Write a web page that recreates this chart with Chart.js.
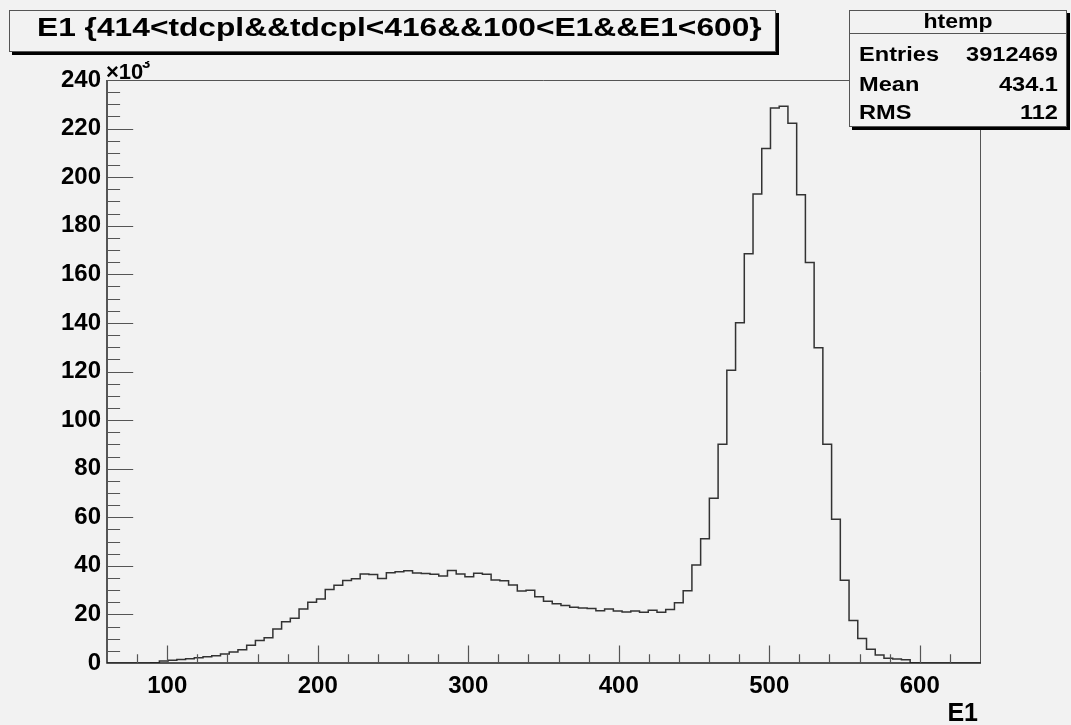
<!DOCTYPE html>
<html>
<head>
<meta charset="utf-8">
<script src="https://cdn.jsdelivr.net/npm/chart.js@4.4.0/dist/chart.umd.min.js"></script>
<style>
  html, body { margin: 0; padding: 0; background: #f2f2f2; }
  #wrap { width: 1071px; height: 725px; position: relative; }
</style>
</head>
<body>
<div id="wrap"><canvas id="c" width="1071" height="725"></canvas></div>
<script>
// htemp : E1 の分布（縦軸は x10^3 単位）
const X_MIN = 60;
const X_MAX = 640;
const N_BINS = 100;

// 各ビンの度数 (x10^3)
const counts = [
  0, 0, 0, 0, 0, 0, 0.1, 0.8, 1.1, 1.4,
  1.8, 2.2, 2.6, 3.0, 3.7, 4.5, 5.5, 7.3, 9.3, 10.4,
  14.0, 17.0, 18.4, 22.2, 25.0, 26.3, 30.3, 32.0, 34.0, 34.7,
  36.6, 36.4, 34.8, 37.2, 37.6, 38.0, 37.0, 36.8, 36.5, 35.8,
  38.1, 36.6, 35.5, 36.9, 36.5, 34.2, 33.9, 32.1, 29.6, 30.0,
  27.3, 25.4, 24.4, 23.7, 22.9, 22.6, 22.4, 21.5, 22.2, 21.4,
  21.0, 21.4, 20.9, 21.7, 20.9, 22.0, 24.8, 29.7, 40.3, 51.1,
  67.8, 90.1, 120.5, 140.1, 168.5, 193.1, 211.8, 228.5, 229.2, 222.2,
  192.8, 164.9, 129.8, 90.1, 59.2, 34.1, 17.5, 10.1, 5.7, 3.3,
  2.0, 1.6, 1.3, 0.1, 0, 0, 0, 0, 0, 0
];

const xTicks = [100, 200, 300, 400, 500, 600];
const xMinorTicks = [80, 120, 140, 160, 180, 220, 240, 260, 280, 320, 340, 360, 380,
  420, 440, 460, 480, 520, 540, 560, 580, 620];
const yTicks = [0, 20, 40, 60, 80, 100, 120, 140, 160, 180, 200, 220, 240];

const titleText = 'E1 {414<tdcpl&&tdcpl<416&&100<E1&&E1<600}';
const statsName = 'htemp';
const statsRows = [['Entries', '3912469'], ['Mean', '434.1'], ['RMS', '112']];
const xTitle = 'E1';

const FONT = '"Liberation Sans", Arial, Helvetica, sans-serif';
const BG = '#f2f2f2';

// ヒストグラムの点（ビン下端, 度数）
const binW = (X_MAX - X_MIN) / N_BINS;
const points = counts.map((v, i) => ({ x: X_MIN + i * binW, y: v }));
points.push({ x: X_MAX, y: 0 });

// 横に少し伸ばした文字（ROOTのフォントは幅広）
function wideText(ctx, text, x, y, sx, align) {
  ctx.save();
  ctx.translate(x, y);
  ctx.scale(sx, 1);
  ctx.textAlign = align;
  ctx.fillText(text, 0, 0);
  ctx.restore();
}

// ROOT風の枠・内向き目盛り・タイトル・統計ボックス
const rootDecor = {
  id: 'rootDecor',
  beforeDraw(chart) {
    const ctx = chart.ctx;
    ctx.save();
    ctx.fillStyle = BG;
    ctx.fillRect(0, 0, chart.width, chart.height);
    ctx.restore();
  },
  afterDraw(chart) {
    const ctx = chart.ctx;
    const a = chart.chartArea;
    const xs = chart.scales.x, ys = chart.scales.y;
    ctx.save();

    // frame top / right
    ctx.strokeStyle = '#555';
    ctx.lineWidth = 1;
    ctx.beginPath();
    ctx.moveTo(a.left, a.top + 0.5);
    ctx.lineTo(a.right + 0.5, a.top + 0.5);
    ctx.lineTo(a.right + 0.5, a.bottom);
    ctx.stroke();

    // axes
    ctx.strokeStyle = '#222';
    ctx.lineWidth = 1.5;
    ctx.beginPath();
    ctx.moveTo(a.left, a.top);
    ctx.lineTo(a.left, a.bottom);
    ctx.lineTo(a.right + 1, a.bottom);
    ctx.stroke();

    // y ticks (inward)
    const yMajor = (a.right - a.left) * 0.03;
    ctx.strokeStyle = '#555';
    ctx.lineWidth = 1.2;
    ctx.beginPath();
    for (let v = 0; v <= 240; v += 5) {
      const py = Math.round(ys.getPixelForValue(v)) + 0.5;
      const len = v % 20 === 0 ? yMajor : yMajor / 2;
      ctx.moveTo(a.left, py);
      ctx.lineTo(a.left + len, py);
    }
    // x ticks (inward)
    const xMajor = (a.bottom - a.top) * 0.03;
    xTicks.forEach(v => {
      const px = Math.round(xs.getPixelForValue(v)) + 0.5;
      ctx.moveTo(px, a.bottom);
      ctx.lineTo(px, a.bottom - xMajor);
    });
    xMinorTicks.forEach(v => {
      const px = Math.round(xs.getPixelForValue(v)) + 0.5;
      ctx.moveTo(px, a.bottom);
      ctx.lineTo(px, a.bottom - xMajor / 2);
    });
    ctx.stroke();

    // x10^3
    ctx.fillStyle = '#000';
    ctx.textBaseline = 'alphabetic';
    ctx.font = 'bold 22px ' + FONT;
    wideText(ctx, '\u00d710', a.left - 1, 79, 1.0, 'left');
    ctx.save();
    ctx.beginPath();
    ctx.rect(a.left + 30, 61, 30, 20);
    ctx.clip();
    ctx.font = 'bold 15px ' + FONT;
    ctx.textAlign = 'left';
    ctx.fillText('3', a.left + 35, 68);
    ctx.restore();

    // x axis title
    ctx.font = 'bold 25px ' + FONT;
    wideText(ctx, xTitle, 978, 721, 1.0, 'right');

    // title box
    ctx.fillStyle = '#000';
    ctx.fillRect(12, 13, 767, 42);
    ctx.fillStyle = BG;
    ctx.fillRect(9, 10, 766, 41);
    ctx.strokeStyle = '#555';
    ctx.lineWidth = 1;
    ctx.strokeRect(9.5, 10.5, 766, 41);
    ctx.fillStyle = '#000';
    ctx.textBaseline = 'middle';
    ctx.font = 'bold 26px ' + FONT;
    wideText(ctx, titleText, 37, 29, 1.22, 'left');

    // stats box
    ctx.fillStyle = '#000';
    ctx.fillRect(852, 13, 218, 117);
    ctx.fillStyle = BG;
    ctx.fillRect(849, 10, 218, 116);
    ctx.strokeStyle = '#555';
    ctx.strokeRect(849.5, 10.5, 217, 116);
    ctx.beginPath();
    ctx.moveTo(849, 33.5);
    ctx.lineTo(1067, 33.5);
    ctx.stroke();
    ctx.fillStyle = '#000';
    ctx.font = 'bold 20px ' + FONT;
    wideText(ctx, statsName, 958, 22, 1.15, 'center');
    const rowY = [55, 85, 113];
    statsRows.forEach((r, i) => {
      wideText(ctx, r[0], 859, rowY[i], 1.18, 'left');
      wideText(ctx, r[1], 1058, rowY[i], 1.18, 'right');
    });

    ctx.restore();
  }
};

new Chart(document.getElementById('c'), {
  type: 'line',
  data: {
    datasets: [{
      label: statsName,
      data: points,
      stepped: 'after',
      borderColor: '#333',
      borderWidth: 1.5,
      pointRadius: 0,
      fill: false,
    }],
  },
  options: {
    responsive: false,
    animation: false,
    devicePixelRatio: 1,
    layout: { padding: { top: 80, right: 91, left: 0, bottom: 0 } },
    plugins: {
      legend: { display: false },
      tooltip: { enabled: false },
      title: { display: false },
    },
    scales: {
      x: {
        type: 'linear',
        min: X_MIN,
        max: X_MAX,
        afterBuildTicks: s => { s.ticks = xTicks.map(v => ({ value: v })); },
        afterFit: s => { s.height = 62; },
        grid: { display: false, drawTicks: false, tickLength: 0 },
        border: { display: false },
        ticks: {
          color: '#000',
          padding: 9,
          maxRotation: 0,
          font: { family: FONT, size: 24, weight: 'bold' },
        },
      },
      y: {
        min: 0,
        max: 240,
        afterBuildTicks: s => { s.ticks = yTicks.map(v => ({ value: v })); },
        afterFit: s => { s.width = 107; },
        grid: { display: false, drawTicks: false, tickLength: 0 },
        border: { display: false },
        ticks: {
          color: '#000',
          padding: 6,
          font: { family: FONT, size: 24, weight: 'bold' },
        },
      },
    },
  },
  plugins: [rootDecor],
});
</script>
</body>
</html>
